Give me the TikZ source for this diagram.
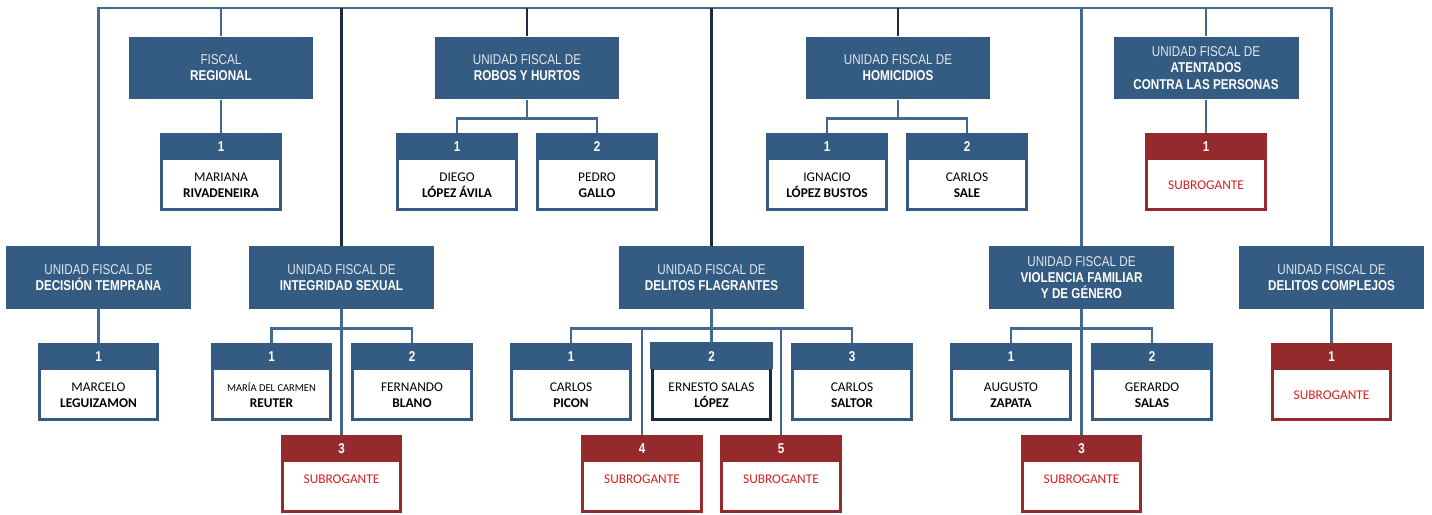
\documentclass[tikz,border=0pt]{standalone}
\usepackage{fontspec}
\setmainfont{Liberation Sans}
\newfontfamily\narrowfont{Liberation Sans}[FakeStretch=0.82]
\newfontfamily\namefont{Carlito}
\definecolor{unitblue}{RGB}{52,91,130}
\definecolor{linkblue}{RGB}{66,105,142}
\definecolor{navy}{RGB}{28,42,66}
\definecolor{subred}{RGB}{148,42,44}
\definecolor{subtext}{RGB}{214,32,32}
\definecolor{paleblue}{RGB}{224,231,239}
\newcommand{\unittitle}[2]{{\color{paleblue}#1}\\#2}
\newcommand{\fiscalcard}[5][card]{%
  \node[#1] (#2) at (#3) {};
  \node[cardnum] at ([yshift=-0.27cm]#2.north) {#4};
  \node[cardname] at ([yshift=-0.27cm]#2.center) {#5};
}

\begin{document}
\begin{tikzpicture}[x=0.02cm,y=-0.02cm,
  unit/.style={fill=unitblue,minimum width=3.7cm,minimum height=1.25cm,align=center,
    inner sep=0pt,text=white,font=\narrowfont\fontsize{8.1}{9.2}\selectfont},
  card/.style={draw=unitblue,fill=white,line width=1.5pt,minimum width=2.37cm,minimum height=1.51cm,
    path picture={\fill[unitblue] (path picture bounding box.north west)
      rectangle ([yshift=-0.52cm]path picture bounding box.north east);}},
  subcard/.style={card,draw=subred,
    path picture={\fill[subred] (path picture bounding box.north west)
      rectangle ([yshift=-0.52cm]path picture bounding box.north east);}},
  cardnum/.style={inner sep=0pt,text=white,font=\narrowfont\bfseries\fontsize{8.1}{9}\selectfont},
  cardname/.style={inner sep=0pt,align=center,font=\namefont\fontsize{7.6}{9.1}\selectfont},
  conn/.style={draw=linkblue,line width=1.6pt},
  conndark/.style={draw=navy,line width=1.6pt}]
  \useasboundingbox (0,0) rectangle (1432,514);

  % units, first row
  \node[unit] (regional)   at (221,68)  {\unittitle{FISCAL}{\textbf{REGIONAL}}};
  \node[unit] (robos)      at (527,68)  {\unittitle{UNIDAD FISCAL DE}{\textbf{ROBOS Y HURTOS}}};
  \node[unit] (homicidios) at (898,68)  {\unittitle{UNIDAD FISCAL DE}{\textbf{HOMICIDIOS}}};
  \node[unit] (atentados)  at (1206,68) {\unittitle{UNIDAD FISCAL DE}{\textbf{ATENTADOS}\\\textbf{CONTRA LAS PERSONAS}}};

  % units, second row
  \node[unit] (decision)   at (98.5,277.5)  {\unittitle{UNIDAD FISCAL DE}{\textbf{DECISIÓN TEMPRANA}}};
  \node[unit] (integridad) at (341.5,277.5) {\unittitle{UNIDAD FISCAL DE}{\textbf{INTEGRIDAD SEXUAL}}};
  \node[unit] (flagrantes) at (711.5,277.5) {\unittitle{UNIDAD FISCAL DE}{\textbf{DELITOS FLAGRANTES}}};
  \node[unit] (violencia)  at (1081.5,277.5){\unittitle{UNIDAD FISCAL DE}{\textbf{VIOLENCIA FAMILIAR}\\\textbf{Y DE GÉNERO}}};
  \node[unit] (complejos)  at (1331.5,277.5){\unittitle{UNIDAD FISCAL DE}{\textbf{DELITOS COMPLEJOS}}};

  % fiscales
  \fiscalcard{mariana}{221,172}{1}{MARIANA\\\textbf{RIVADENEIRA}}
  \fiscalcard{diego}{457,172}{1}{DIEGO\\\textbf{LÓPEZ ÁVILA}}
  \fiscalcard{pedro}{597,172}{2}{PEDRO\\\textbf{GALLO}}
  \fiscalcard{ignacio}{827,172}{1}{IGNACIO\\\textbf{LÓPEZ BUSTOS}}
  \fiscalcard{sale}{967,172}{2}{CARLOS\\\textbf{SALE}}
  \fiscalcard[subcard]{atsub}{1206,172}{1}{\textcolor{subtext}{SUBROGANTE}}

  \fiscalcard{marcelo}{98.5,382}{1}{MARCELO\\\textbf{LEGUIZAMON}}
  \fiscalcard{maria}{271.5,382}{1}{{\fontsize{6}{7}\selectfont MARÍA DEL CARMEN}\\\textbf{REUTER}}
  \fiscalcard{fernando}{412,382}{2}{FERNANDO\\\textbf{BLANO}}
  \fiscalcard{picon}{571,382}{1}{CARLOS\\\textbf{PICON}}
  \fiscalcard[card,draw=navy]{ernesto}{711.5,382}{2}{ERNESTO SALAS\\\textbf{LÓPEZ}}
  \fiscalcard{saltor}{852,382}{3}{CARLOS\\\textbf{SALTOR}}
  \fiscalcard{augusto}{1011,382}{1}{AUGUSTO\\\textbf{ZAPATA}}
  \fiscalcard{gerardo}{1152,382}{2}{GERARDO\\\textbf{SALAS}}
  \fiscalcard[subcard]{compsub}{1331.5,382}{1}{\textcolor{subtext}{SUBROGANTE}}

  \fiscalcard[subcard]{intsub}{341.5,474}{3}{\textcolor{subtext}{SUBROGANTE}\\\mbox{}}
  \fiscalcard[subcard]{flagsubA}{642,474}{4}{\textcolor{subtext}{SUBROGANTE}\\\mbox{}}
  \fiscalcard[subcard]{flagsubB}{781,474}{5}{\textcolor{subtext}{SUBROGANTE}\\\mbox{}}
  \fiscalcard[subcard]{violsub}{1081.5,474}{3}{\textcolor{subtext}{SUBROGANTE}\\\mbox{}}

  % band of the card with the dark frame stays blue
  \fill[unitblue] ([xshift=-0.75pt,yshift=0.75pt]ernesto.north west) rectangle ([xshift=0.75pt,yshift=-0.52cm]ernesto.north east);
  \node[cardnum] at ([yshift=-0.27cm]ernesto.north) {2};

  % top bus
  \coordinate (bus) at (0,8);
  \draw[conn] (decision.north) -- (decision.north |- bus) -- (complejos.north |- bus) -- (complejos.north);
  \foreach \u in {regional,atentados,violencia}
    \draw[conn] (\u.north) -- (\u.north |- bus);
  \foreach \u in {integridad,robos,flagrantes,homicidios}
    \draw[conndark] (\u.north) -- (\u.north |- bus);

  % branches
  \draw[conn] (regional.south) -- (mariana.north);
  \draw[conn] (robos.south) -- ++(0,19) coordinate (robosfork) -| (diego.north);
  \draw[conn] (robosfork) -| (pedro.north);
  \draw[conn] (homicidios.south) -- ++(0,19) coordinate (homfork) -| (ignacio.north);
  \draw[conn] (homfork) -| (sale.north);
  \draw[conn] (atentados.south) -- (atsub.north);

  \draw[conn] (decision.south) -- (marcelo.north);
  \draw[conn] (integridad.south) -- ++(0,19) coordinate (intfork) -| (maria.north);
  \draw[conn] (intfork) -| (fernando.north);
  \draw[conn] (integridad.south) -- (intsub.north);
  \draw[conn] (flagrantes.south) -- ++(0,19) coordinate (flagfork) -- (ernesto.north);
  \foreach \f in {picon,saltor,flagsubA,flagsubB}
    \draw[conn] (flagfork) -| (\f.north);
  \draw[conn] (violencia.south) -- ++(0,19) coordinate (violfork) -| (augusto.north);
  \draw[conn] (violfork) -| (gerardo.north);
  \draw[conn] (violencia.south) -- (violsub.north);
  \draw[conn] (complejos.south) -- (compsub.north);
\end{tikzpicture}
\end{document}
